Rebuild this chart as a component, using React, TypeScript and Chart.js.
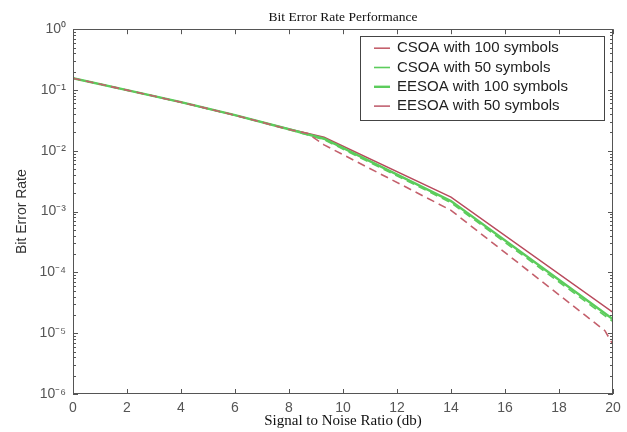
import React, { useEffect, useRef } from 'react';
import { Chart, registerables } from 'chart.js';

Chart.register(...registerables);

// ---- data ----
const snrMain = [0, 2, 4, 6, 8, 9.3, 14, 20];
const snrCsoa100 = [0, 2, 4, 6, 8, 8.7, 9.3, 14, 19.7, 20];
const csoa100 = [0.156, 0.0995, 0.063, 0.0385, 0.0224, 0.0192, 0.0125, 1.05e-3, 1.1e-5, 6.5e-6];
const csoa50 = [0.156, 0.0995, 0.063, 0.0385, 0.0224, 0.0152, 1.4e-3, 1.55e-5];
const eesoa100 = [0.156, 0.0995, 0.063, 0.0385, 0.0226, 0.0158, 1.49e-3, 1.7e-5];
const eesoa50 = [0.156, 0.0995, 0.063, 0.0385, 0.0228, 0.0167, 1.73e-3, 2.2e-5];
const seriesLabels = [
  'CSOA with 100 symbols',
  'CSOA with 50 symbols',
  'EESOA with 100 symbols',
  'EESOA with 50 symbols',
];
const xTickValues = [0, 2, 4, 6, 8, 10, 12, 14, 16, 18, 20];
const yDecades = [-6, -5, -4, -3, -2, -1, 0];

const SUP: Record<string, string> = {
  '-': '\u207B', '0': '\u2070', '1': '\u00B9', '2': '\u00B2', '3': '\u00B3',
  '4': '\u2074', '5': '\u2075', '6': '\u2076', '7': '\u2077', '8': '\u2078', '9': '\u2079',
};
const sup = (n: number) => String(n).split('').map((c) => SUP[c] || c).join('');

const SANS = '"Liberation Sans", Arial, Helvetica, sans-serif';
const SERIF = '"Liberation Serif", "Times New Roman", Times, serif';

const RED_DASH = '#c4606c';
const RED_SOLID = '#b84a5c';
const GREEN = '#5ccc5c';

const pts = (xs: number[], ys: number[]) => ys.map((y, i) => ({ x: xs[i], y }));

const boxPlugin = {
  id: 'matlabBox',
  afterDatasetsDraw(chart: any) {
    const { ctx, chartArea: a, scales } = chart;
    const xs = scales.x;
    const ys = scales.y;
    ctx.save();
    ctx.strokeStyle = '#555';
    ctx.lineWidth = 1;
    ctx.strokeRect(Math.round(a.left) + 0.5, Math.round(a.top) + 0.5,
      Math.round(a.right - a.left) - 1, Math.round(a.bottom - a.top) - 1);
    ctx.beginPath();
    for (const v of xTickValues) {
      const px = Math.round(xs.getPixelForValue(v)) + 0.5;
      ctx.moveTo(px, a.bottom); ctx.lineTo(px, a.bottom - 5);
      ctx.moveTo(px, a.top); ctx.lineTo(px, a.top + 5);
    }
    for (const d of yDecades) {
      for (let m = 1; m <= 9; m++) {
        const v = m * Math.pow(10, d);
        if (v > 1.0000001) break;
        const py = Math.round(ys.getPixelForValue(v)) + 0.5;
        const len = m === 1 ? 5 : 3;
        ctx.moveTo(a.left, py); ctx.lineTo(a.left + len, py);
        ctx.moveTo(a.right, py); ctx.lineTo(a.right - len, py);
      }
    }
    ctx.stroke();

    // legend box
    const bx = a.right - 253;
    const by = a.top + 7;
    const bw = 244;
    const bh = 84;
    ctx.fillStyle = '#fff';
    ctx.fillRect(bx, by, bw, bh);
    ctx.strokeStyle = '#444';
    ctx.strokeRect(Math.round(bx) + 0.5, Math.round(by) + 0.5, bw, bh);
    ctx.font = `15px ${SANS}`;
    ctx.textBaseline = 'middle';
    chart.data.datasets.forEach((ds: any, i: number) => {
      const cy = by + 12 + i * 19.3;
      ctx.beginPath();
      ctx.strokeStyle = ds.borderColor;
      ctx.lineWidth = ds.borderWidth;
      ctx.setLineDash([]);
      ctx.moveTo(bx + 14, cy); ctx.lineTo(bx + 30, cy);
      ctx.stroke();
      ctx.fillStyle = '#222';
      ctx.fillText(ds.label, bx + 37, cy);
    });
    ctx.restore();
  },
};

export default function App() {
  const ref = useRef<HTMLCanvasElement | null>(null);
  useEffect(() => {
    if (!ref.current) return;
    const chart = new Chart(ref.current, {
      type: 'line',
      data: {
        datasets: [
          { label: seriesLabels[0], data: pts(snrCsoa100, csoa100), borderColor: RED_DASH, borderWidth: 1.6, borderDash: [8, 5], pointRadius: 0, tension: 0 },
          { label: seriesLabels[1], data: pts(snrMain, csoa50), borderColor: GREEN, borderWidth: 1.6, borderDash: [8, 5], pointRadius: 0, tension: 0 },
          { label: seriesLabels[2], data: pts(snrMain, eesoa100), borderColor: GREEN, borderWidth: 2.4, pointRadius: 0, tension: 0 },
          { label: seriesLabels[3], data: pts(snrMain, eesoa50), borderColor: RED_SOLID, borderWidth: 1.4, pointRadius: 0, tension: 0 },
        ],
      },
      options: {
        animation: false,
        responsive: false,
        layout: { padding: { left: 0, right: 14, top: 0, bottom: 0 } },
        plugins: {
          legend: { display: false },
          tooltip: { enabled: false },
          title: {
            display: true,
            text: 'Bit Error Rate Performance',
            fullSize: false,
            color: '#111',
            font: { family: SERIF, size: 13.5, weight: 'normal' },
            padding: { top: 9, bottom: 4 },
          },
        },
        scales: {
          x: {
            type: 'linear',
            min: 0,
            max: 20,
            grid: { display: false, drawTicks: false },
            border: { display: false },
            ticks: { stepSize: 2, padding: 6, color: '#555', font: { family: SANS, size: 14 } },
            title: {
              display: true,
              text: 'Signal to Noise Ratio (db)',
              color: '#111',
              font: { family: SERIF, size: 15 },
              padding: { top: 0, bottom: 2 },
            },
            afterFit: (s: any) => { s.height = 38; },
          },
          y: {
            type: 'logarithmic',
            min: 1e-6,
            max: 1,
            grid: { display: false, drawTicks: false },
            border: { display: false },
            ticks: {
              autoSkip: false,
              padding: 7,
              color: '#555',
              font: { family: SANS, size: 14 },
              callback: (v: any) => {
                const l = Math.log10(Number(v));
                const r = Math.round(l);
                return Math.abs(l - r) < 1e-6 ? '10' + sup(r) : '';
              },
            },
            title: {
              display: true,
              text: 'Bit Error Rate',
              color: '#333',
              font: { family: SANS, size: 14 },
              padding: { top: 14, bottom: 0 },
            },
            afterFit: (s: any) => { s.width = 73; },
          },
        },
      } as any,
      plugins: [boxPlugin],
    });
    return () => chart.destroy();
  }, []);
  return (
    <div style={{ position: 'fixed', left: 0, top: 0, width: 627, height: 432, background: '#fff' }}>
      <canvas ref={ref} width={627} height={432} />
    </div>
  );
}
